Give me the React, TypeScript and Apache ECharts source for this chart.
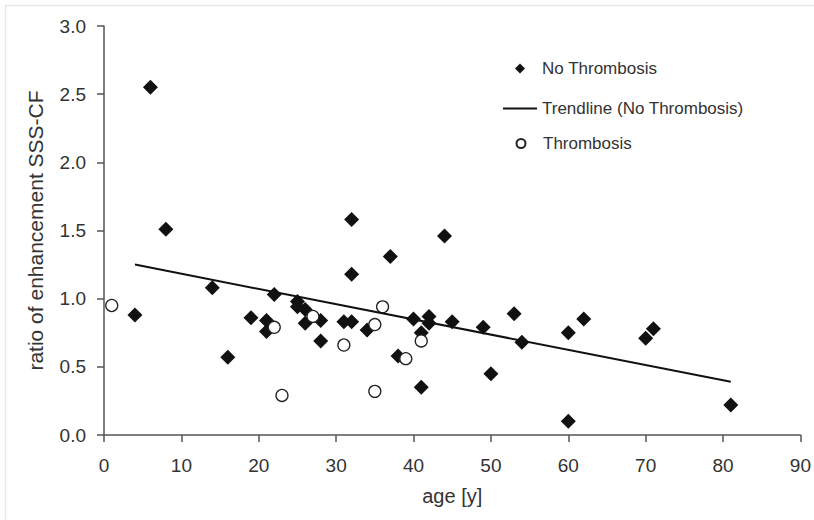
import React, { useEffect, useRef } from 'react';
import * as echarts from 'echarts';

const noThrombAge = [4, 6, 8, 14, 16, 19, 21, 21, 22, 25, 25, 26, 26, 28, 28, 31, 32, 32, 32, 34, 37, 38, 40, 41, 41, 42, 42, 44, 45, 49, 50, 53, 54, 60, 60, 62, 70, 71, 81];
const noThrombRatio = [0.88, 2.55, 1.51, 1.08, 0.57, 0.86, 0.84, 0.76, 1.03, 0.98, 0.94, 0.92, 0.82, 0.84, 0.69, 0.83, 1.58, 1.18, 0.83, 0.77, 1.31, 0.58, 0.85, 0.75, 0.35, 0.87, 0.82, 1.46, 0.83, 0.79, 0.45, 0.89, 0.68, 0.75, 0.10, 0.85, 0.71, 0.78, 0.22];

const thrombAge = [1, 22, 23, 27, 31, 35, 35, 36, 39, 41];
const thrombRatio = [0.95, 0.79, 0.29, 0.87, 0.66, 0.81, 0.32, 0.94, 0.56, 0.69];

const trendAge = [4, 81];
const trendRatio = [1.25, 0.39];

const seriesNames = ['No Thrombosis', 'Trendline (No Thrombosis)', 'Thrombosis'];
const xAxisTitle = 'age [y]';
const yAxisTitle = 'ratio of enhancement SSS-CF';

const FONT = '"Liberation Sans", Arial, Helvetica, sans-serif';
const TEXT = '#333';
const AXIS = '#555';

// legend icons: an invisible 34-wide box with the marker centred in it
const DIAMOND_ICON = 'path://M0,0 M34,10 M12,5 L17,0 L22,5 L17,10 Z';
const CIRCLE_ICON = 'path://M0,0 M34,9 M12.5,4.5 A4.5,4.5 0 1 0 21.5,4.5 A4.5,4.5 0 1 0 12.5,4.5 Z';

export default function App() {
  const ref = useRef<HTMLDivElement>(null);
  useEffect(() => {
    if (!ref.current) return;
    const chart = echarts.init(ref.current, undefined, { renderer: 'svg' });
    const zip = (a: number[], b: number[]) => a.map((v, i) => [v, b[i]]);
    const legendText = { fontSize: 17, color: TEXT, fontFamily: FONT };
    chart.setOption({
      animation: false,
      backgroundColor: '#fff',
      textStyle: { fontFamily: FONT },
      grid: { left: 104, right: 13, top: 26, bottom: 85, containLabel: false },
      xAxis: {
        type: 'value',
        min: 0,
        max: 90,
        interval: 10,
        name: xAxisTitle,
        nameLocation: 'middle',
        nameGap: 51,
        nameTextStyle: { fontSize: 20, color: TEXT, fontFamily: FONT },
        axisLine: { show: true, lineStyle: { color: AXIS, width: 1.5 } },
        axisTick: { show: true, inside: false, length: 7, lineStyle: { color: AXIS, width: 1.5 } },
        axisLabel: { fontSize: 19, color: TEXT, margin: 21, fontFamily: FONT },
        splitLine: { show: false },
      },
      yAxis: {
        type: 'value',
        min: 0,
        max: 3,
        interval: 0.5,
        name: yAxisTitle,
        nameLocation: 'middle',
        nameGap: 58,
        nameTextStyle: { fontSize: 21, color: TEXT, fontFamily: FONT },
        axisLine: { show: true, lineStyle: { color: AXIS, width: 1.5 } },
        axisTick: { show: true, inside: false, length: 7, lineStyle: { color: AXIS, width: 1.5 } },
        axisLabel: {
          fontSize: 19,
          color: TEXT,
          margin: 18,
          fontFamily: FONT,
          formatter: (v: number) => v.toFixed(1),
        },
        splitLine: { show: false },
      },
      legend: [
        {
          data: [{ name: seriesNames[0], icon: DIAMOND_ICON }],
          left: 503,
          top: 60,
          padding: 0,
          itemWidth: 34,
          itemHeight: 10,
          textStyle: legendText,
          selectedMode: false,
        },
        {
          data: [{ name: seriesNames[1], icon: 'rect' }],
          left: 503,
          top: 100,
          padding: 0,
          itemWidth: 34,
          itemHeight: 2,
          textStyle: legendText,
          selectedMode: false,
        },
        {
          data: [{ name: seriesNames[2], icon: CIRCLE_ICON }],
          left: 503,
          top: 135,
          padding: 0,
          itemWidth: 34,
          itemHeight: 9,
          textStyle: legendText,
          selectedMode: false,
        },
      ],
      graphic: [
        { type: 'line', shape: { x1: 5, y1: 5.5, x2: 814, y2: 5.5 }, style: { stroke: '#e8e8e8', lineWidth: 1.5 }, silent: true },
        { type: 'line', shape: { x1: 5.5, y1: 5, x2: 5.5, y2: 520 }, style: { stroke: '#e8e8e8', lineWidth: 1.5 }, silent: true },
      ],
      series: [
        {
          name: seriesNames[0],
          type: 'scatter',
          symbol: 'diamond',
          symbolSize: 15,
          itemStyle: { color: '#111', opacity: 1 },
          data: zip(noThrombAge, noThrombRatio),
          z: 2,
        },
        {
          name: seriesNames[2],
          type: 'scatter',
          symbol: 'circle',
          symbolSize: 12,
          itemStyle: { color: '#ffffff', borderColor: '#222', borderWidth: 1.3, opacity: 1 },
          data: zip(thrombAge, thrombRatio),
          z: 3,
        },
        {
          name: seriesNames[1],
          type: 'line',
          symbol: 'none',
          lineStyle: { color: '#111', width: 2 },
          itemStyle: { color: '#111' },
          data: zip(trendAge, trendRatio),
          z: 4,
        },
      ],
    });
    return () => chart.dispose();
  }, []);
  return (
    <div
      ref={ref}
      style={{ position: 'fixed', left: 0, top: 0, width: 814, height: 520, background: '#fff' }}
    />
  );
}
